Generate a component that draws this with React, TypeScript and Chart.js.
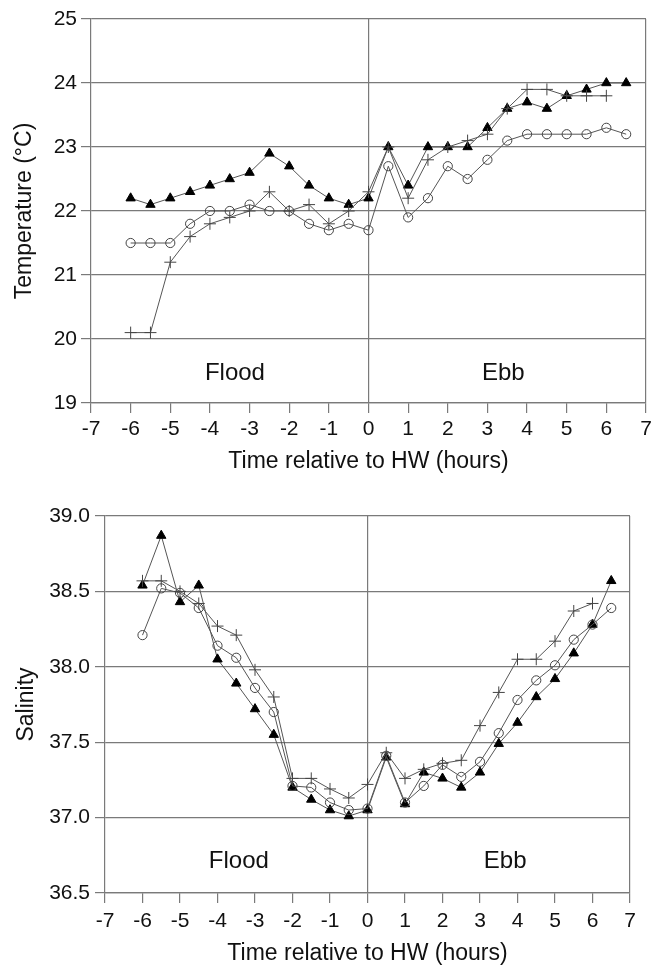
import React, { useEffect, useRef } from 'react';
import { Chart, registerables } from 'chart.js';

Chart.register(...registerables);

const FONT = '"Liberation Sans", Arial, Helvetica, sans-serif';

// Time relative to high water (hours)
const hours = [-6, -5.5, -5, -4.5, -4, -3.5, -3, -2.5, -2, -1.5, -1, -0.5, 0, 0.5, 1, 1.5, 2, 2.5, 3, 3.5, 4, 4.5, 5, 5.5, 6, 6.5];

// Temperature (°C)
const tempTriangle = [22.2, 22.1, 22.2, 22.3, 22.4, 22.5, 22.6, 22.9, 22.7, 22.4, 22.2, 22.1, 22.2, 23.0, 22.4, 23.0, 23.0, 23.0, 23.3, 23.6, 23.7, 23.6, 23.8, 23.9, 24.0, 24.0];
const tempCircle = [21.5, 21.5, 21.5, 21.8, 22.0, 22.0, 22.1, 22.0, 22.0, 21.8, 21.7, 21.8, 21.7, 22.7, 21.9, 22.2, 22.7, 22.5, 22.8, 23.1, 23.2, 23.2, 23.2, 23.2, 23.3, 23.2];
const tempPlus = [20.1, 20.1, 21.2, 21.6, 21.8, 21.9, 22.0, 22.3, 22.0, 22.1, 21.8, 22.0, 22.3, 23.0, 22.2, 22.8, 23.0, 23.1, 23.2, 23.6, 23.9, 23.9, 23.8, 23.8, 23.8, null];

// Salinity
const salTriangle = [38.54, 38.87, 38.43, 38.54, 38.05, 37.89, 37.72, 37.55, 37.2, 37.12, 37.05, 37.01, 37.05, 37.4, 37.09, 37.3, 37.26, 37.2, 37.3, 37.49, 37.63, 37.8, 37.92, 38.09, 38.28, 38.57];
const salCircle = [38.21, 38.52, 38.49, 38.39, 38.14, 38.06, 37.86, 37.7, 37.21, 37.2, 37.1, 37.05, 37.06, 37.41, 37.1, 37.21, 37.35, 37.27, 37.37, 37.56, 37.78, 37.91, 38.01, 38.18, 38.28, 38.39];
const salPlus = [38.57, 38.57, 38.5, 38.42, 38.27, 38.21, 37.98, 37.8, 37.26, 37.26, 37.19, 37.13, 37.22, 37.43, 37.26, 37.32, 37.36, 37.38, 37.61, 37.83, 38.05, 38.05, 38.17, 38.37, 38.42, null];

const xTitle = 'Time relative to HW (hours)';
const tempTitle = 'Temperature (°C)';
const salTitle = 'Salinity';
const tempLabels = [
  { text: 'Flood', x: -3.37, y: 19.47 },
  { text: 'Ebb', x: 3.4, y: 19.47 },
];
const salLabels = [
  { text: 'Flood', x: -3.43, y: 36.71 },
  { text: 'Ebb', x: 3.67, y: 36.71 },
];

const GRID = '#7a7a7a';
const LINE = '#555555';

function toPoints(values: (number | null)[]) {
  return hours
    .map((h, i) => ({ x: h, y: values[i] }))
    .filter((p) => p.y !== null);
}

const regionLabels = {
  id: 'regionLabels',
  afterDatasetsDraw(chart: any, _args: any, opts: any) {
    const { ctx } = chart;
    const xs = chart.scales.x;
    const ys = chart.scales.y;
    ctx.save();
    ctx.font = `24px ${FONT}`;
    ctx.fillStyle = '#111';
    ctx.textAlign = 'center';
    ctx.textBaseline = 'middle';
    (opts.items || []).forEach((it: any) => {
      ctx.fillText(it.text, xs.getPixelForValue(it.x), ys.getPixelForValue(it.y));
    });
    ctx.restore();
  },
};

interface Cfg {
  tri: (number | null)[];
  circ: (number | null)[];
  plus: (number | null)[];
  yMin: number;
  yMax: number;
  yStep: number;
  decimals: number;
  yTitle: string;
  yTitlePad: number;
  yWidth: number;
  xHeight: number;
  padTop: number;
  padRight: number;
  xTickPad: number;
  yTickPad: number;
  xTitlePadBottom: number;
  labels: { text: string; x: number; y: number }[];
}

function buildConfig(c: Cfg): any {
  return {
    type: 'line',
    data: {
      datasets: [
        {
          data: toPoints(c.plus),
          borderColor: LINE,
          borderWidth: 1,
          pointStyle: 'cross',
          pointRadius: 6,
          pointBorderColor: '#444',
          pointBorderWidth: 1,
          backgroundColor: 'rgba(0,0,0,0)',
          tension: 0,
        },
        {
          data: toPoints(c.circ),
          borderColor: LINE,
          borderWidth: 1,
          pointStyle: 'circle',
          pointRadius: 4.6,
          pointBorderColor: '#444',
          pointBackgroundColor: 'rgba(0,0,0,0)',
          pointBorderWidth: 1,
          backgroundColor: 'rgba(0,0,0,0)',
          tension: 0,
        },
        {
          data: toPoints(c.tri),
          borderColor: LINE,
          borderWidth: 1,
          pointStyle: 'triangle',
          pointRadius: 5.4,
          pointBorderColor: '#000',
          pointBackgroundColor: '#000',
          pointBorderWidth: 1,
          backgroundColor: '#000',
          tension: 0,
        },
      ],
    },
    options: {
      responsive: false,
      animation: false,
      events: [],
      layout: { padding: { top: c.padTop, right: c.padRight, left: 0, bottom: 0 } },
      plugins: {
        legend: { display: false },
        tooltip: { enabled: false },
        regionLabels: { items: c.labels },
      },
      scales: {
        x: {
          type: 'linear',
          min: -7,
          max: 7,
          afterFit: (s: any) => {
            s.height = c.xHeight;
          },
          afterBuildTicks: (s: any) => {
            const t = [];
            for (let v = -7; v <= 7; v++) t.push({ value: v });
            s.ticks = t;
          },
          ticks: {
            stepSize: 1,
            padding: c.xTickPad,
            color: '#111',
            font: { family: FONT, size: 21 },
            maxRotation: 0,
            autoSkip: false,
            callback: (v: any) => String(v),
          },
          grid: {
            color: (ctx: any) => (ctx.tick && (ctx.tick.value === 0 || ctx.tick.value === 7) ? GRID : 'rgba(0,0,0,0)'),
            tickColor: GRID,
            tickLength: 10,
            lineWidth: 1.2,
          },
          border: { display: true, color: GRID, width: 1.2 },
          title: {
            display: true,
            text: xTitle,
            color: '#111',
            font: { family: FONT, size: 23 },
            padding: { top: 0, bottom: c.xTitlePadBottom },
          },
        },
        y: {
          type: 'linear',
          min: c.yMin,
          max: c.yMax,
          afterFit: (s: any) => {
            s.width = c.yWidth;
          },
          ticks: {
            stepSize: c.yStep,
            padding: c.yTickPad,
            color: '#111',
            font: { family: FONT, size: 21 },
            callback: (v: any) => Number(v).toFixed(c.decimals),
          },
          grid: {
            color: GRID,
            tickColor: GRID,
            tickLength: 10,
            lineWidth: 1.2,
          },
          border: { display: true, color: GRID, width: 1.2 },
          title: {
            display: true,
            text: c.yTitle,
            color: '#111',
            font: { family: FONT, size: 23 },
            padding: { top: c.yTitlePad, bottom: 0 },
          },
        },
      },
    },
    plugins: [regionLabels],
  };
}

function ChartCanvas({ cfg, width, height, top }: { cfg: Cfg; width: number; height: number; top: number }) {
  const ref = useRef<HTMLCanvasElement | null>(null);
  useEffect(() => {
    if (!ref.current) return;
    const chart = new Chart(ref.current, buildConfig(cfg));
    return () => chart.destroy();
  }, []);
  return (
    <canvas
      ref={ref}
      width={width}
      height={height}
      style={{ position: 'absolute', left: 0, top, width, height, display: 'block' }}
    />
  );
}

export default function App() {
  const tempCfg: Cfg = {
    tri: tempTriangle,
    circ: tempCircle,
    plus: tempPlus,
    yMin: 19,
    yMax: 25,
    yStep: 1,
    decimals: 0,
    yTitle: tempTitle,
    yTitlePad: 11,
    yWidth: 91,
    xHeight: 72,
    padTop: 19,
    padRight: 18,
    xTickPad: 4,
    yTickPad: 4,
    xTitlePadBottom: 0,
    labels: tempLabels,
  };
  const salCfg: Cfg = {
    tri: salTriangle,
    circ: salCircle,
    plus: salPlus,
    yMin: 36.5,
    yMax: 39.0,
    yStep: 0.5,
    decimals: 1,
    yTitle: salTitle,
    yTitlePad: 13,
    yWidth: 105,
    xHeight: 76,
    padTop: 41,
    padRight: 34,
    xTickPad: 6,
    yTickPad: 5,
    xTitlePadBottom: 2,
    labels: salLabels,
  };
  return (
    <div style={{ position: 'absolute', left: 0, top: 0, width: 664, height: 969, background: '#fff', overflow: 'hidden' }}>
      <ChartCanvas cfg={tempCfg} width={664} height={475} top={0} />
      <ChartCanvas cfg={salCfg} width={664} height={494} top={475} />
    </div>
  );
}
